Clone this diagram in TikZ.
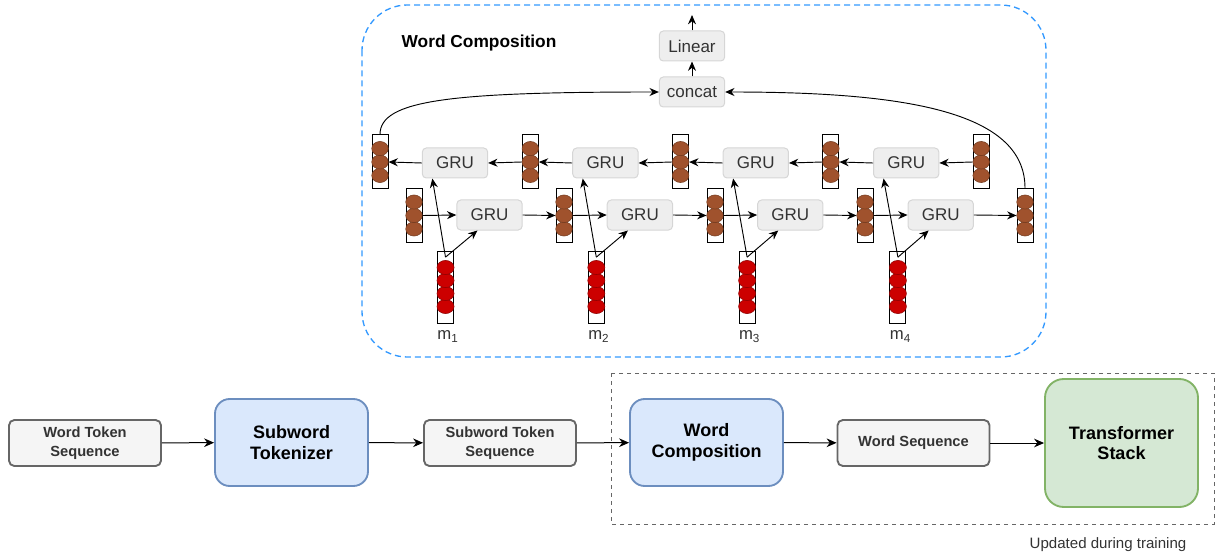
\documentclass[tikz,border=0pt]{standalone}
\usepackage{fontspec}
\setmainfont{Liberation Sans}
\usepackage{tikz}
\usetikzlibrary{arrows.meta,positioning}
\usepackage{xcolor}
\definecolor{wcgray}{RGB}{245,245,245}
\definecolor{wcgrayline}{RGB}{102,102,102}
\definecolor{wcblue}{RGB}{218,232,252}
\definecolor{wcblueline}{RGB}{108,142,191}
\definecolor{wcgreen}{RGB}{213,232,212}
\definecolor{wcgreenline}{RGB}{130,179,102}
\definecolor{wcinner}{RGB}{238,238,238}
\definecolor{wcinnerline}{RGB}{214,214,214}
\definecolor{wcbrown}{RGB}{160,82,45}
\definecolor{wcbrownline}{RGB}{115,58,30}
\definecolor{wcred}{RGB}{204,0,0}
\definecolor{wcredline}{RGB}{140,0,0}
\definecolor{wcdash}{RGB}{51,153,255}
\definecolor{wctext}{RGB}{51,51,51}
\tikzstyle{arrow} = [line width=0.75pt,-{Stealth[length=7.5pt,width=6.5pt]}]
\tikzstyle{thinarrow} = [line width=0.7pt,-{Stealth[length=7pt,width=6pt]}]

\begin{document}
\begin{tikzpicture}[x=0.75pt,y=-0.75pt,
    smallbox/.style={rectangle, rounded corners=4pt, draw=wcgrayline, fill=wcgray, line width=1.4pt,
        minimum width=114pt, minimum height=34.5pt, align=center, font=\fontsize{11}{14}\selectfont\bfseries, text=wctext},
    bigbox/.style={rectangle, rounded corners=11pt, draw=wcblueline, fill=wcblue, line width=1.4pt,
        minimum width=114.75pt, minimum height=65.25pt, align=center, font=\fontsize{13.5}{15.5}\selectfont\bfseries},
    stackbox/.style={bigbox, draw=wcgreenline, fill=wcgreen, rounded corners=14pt, minimum height=96pt},
    gru/.style={rectangle, rounded corners=3pt, draw=wcinnerline, fill=wcinner, line width=0.75pt,
        minimum width=49pt, minimum height=22.5pt, inner sep=0pt, font=\fontsize{12.75}{15}\selectfont, text=wctext},
    vecbox/.style={rectangle, draw=black, fill=white, line width=0.75pt, minimum width=12pt, minimum height=40.5pt, inner sep=0pt},
    charbox/.style={vecbox, minimum height=54pt},
    bcell/.style={fill=wcbrown, draw=wcbrownline, line width=0.4pt},
    rcell/.style={fill=wcred, draw=wcredline, line width=0.4pt}
]
\useasboundingbox (0,0) rectangle (1217,556);

% pipeline
\draw[wcgrayline, dashed, dash pattern=on 3pt off 3pt, line width=0.75pt] (611,373) rectangle (1214,524);
\node[font=\fontsize{11.3}{13}\selectfont, text=wctext] (note) at (1108,545) {Updated during training};

\node[smallbox] (wordtok) at (85,443) {Word Token\\Sequence};
\node[bigbox] (subtok) at (291.5,442.5) {Subword\\Tokenizer};
\node[smallbox] (subseq) at (500,443) {Subword Token\\Sequence};
\node[bigbox] (wordcomp) at (706.5,442.5) {Word\\Composition};
\node[smallbox] (wordseq) at (913.5,443) {Word Sequence};
\node[stackbox] (tstack) at (1121.5,443) {Transformer\\Stack};

\draw[arrow] (wordtok) -- (subtok);
\draw[arrow] (subtok) -- (subseq);
\draw[arrow] (subseq) -- (wordcomp);
\draw[arrow] (wordcomp) -- (wordseq);
\draw[arrow] (wordseq) -- (tstack);

% word composition detail
\draw[wcdash, line width=1pt, dash pattern=on 4.5pt off 3pt, rounded corners=34pt] (362,5) rectangle (1046,357);
\node[font=\fontsize{13}{15}\selectfont\bfseries] (title) at (479,43) {Word Composition};

\node[gru] (linear) at (692,46) {Linear};
\node[gru] (concat) at (692,92) {concat};
\coordinate (out) at (692,15);
\draw[thinarrow] (concat) -- (linear);
\draw[thinarrow] (linear) -- (out);

\foreach \i in {0,...,4} {
    \node[vecbox] (bv\i) at (380+150.3*\i,162) {};
    \foreach \k in {-1,0,1}
        \draw[bcell] ([yshift=\k*10.1pt]bv\i.center) ellipse [x radius=6.2pt, y radius=5.3pt];
}
\foreach \i/\x in {0/414,1/564,2/715,3/865,4/1025} {
    \node[vecbox] (fv\i) at (\x,215.5) {};
    \foreach \k in {-1,0,1}
        \draw[bcell] ([yshift=\k*10.1pt]fv\i.center) ellipse [x radius=6.2pt, y radius=5.3pt];
}
\foreach \i in {0,...,3} {
    \node[gru] (bgru\i) at (455+150.4*\i,163) {GRU};
    \node[gru] (fgru\i) at (489.5+150.4*\i,215) {GRU};
    \node[charbox] (mv\i) at (445.5+150.8*\i,287) {};
    \foreach \k in {-1.5,-0.5,0.5,1.5}
        \draw[rcell] ([yshift=\k*9.75pt]mv\i.center) ellipse [x radius=6.4pt, y radius=5.3pt];
    \pgfmathtruncatemacro{\m}{\i+1}
    \node[font=\fontsize{12.5}{14}\selectfont, text=wctext, anchor=north] (mlab\i) at (448+150.8*\i,326) {m\textsubscript{\m}};
}
\foreach \i in {0,...,3} {
    \pgfmathtruncatemacro{\j}{\i+1}
    \draw[thinarrow] (fv\i.east) -- (fgru\i.west);
    \draw[thinarrow] (fgru\i.east) -- (fv\j.west);
    \draw[thinarrow] (bv\j.west) -- (bgru\i.east);
    \draw[thinarrow] (bgru\i.west) -- (bv\i.east);
    \draw[thinarrow] ([yshift=-5pt]mv\i.north) -- ([xshift=-17pt]bgru\i.south);
    \draw[thinarrow] ([yshift=-5pt]mv\i.north) -- ([xshift=-9pt]fgru\i.south);
}
\draw[thinarrow] (bv0.north) .. controls (380,100) and (450,92) .. (concat.west);
\draw[thinarrow] (fv4.north) .. controls (1025,110) and (900,92) .. (concat.east);
\end{tikzpicture}
\end{document}
